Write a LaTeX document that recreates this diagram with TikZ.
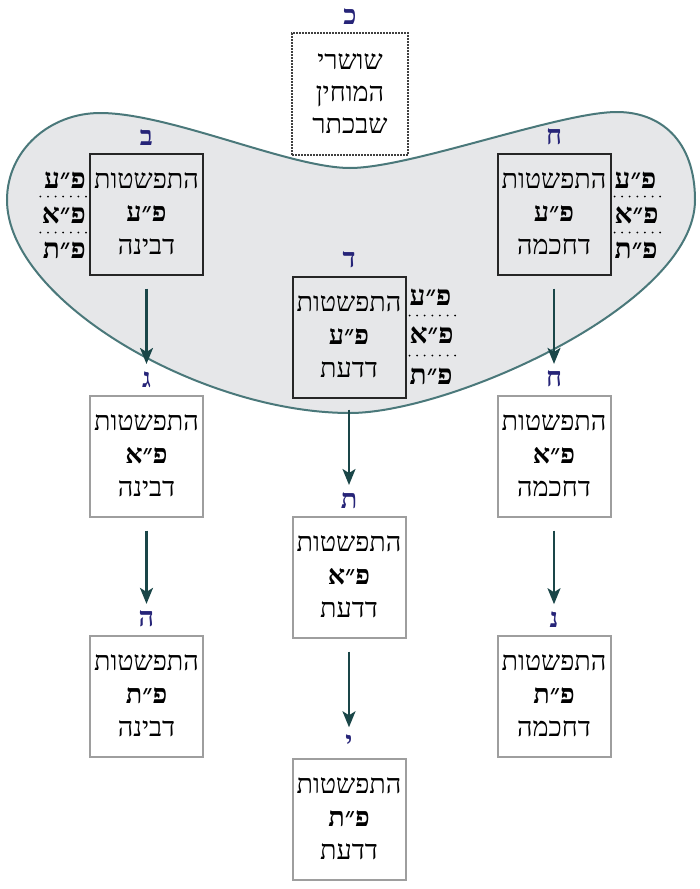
\documentclass[tikz,border=0pt]{standalone}
\usepackage{fontspec}
\setmainfont{Liberation Serif}[Script=Hebrew]
\TeXXeTstate=1
\usetikzlibrary{positioning,arrows.meta}
\newcommand\heb[1]{\beginR#1\endR}
\newcommand\tribox[3]{\heb{#1}\\\textbf{\heb{#2}}\\\heb{#3}}
\definecolor{blob_fill}{RGB}{230,231,233}
\definecolor{blob_edge}{RGB}{74,120,122}
\definecolor{arrow_teal}{RGB}{26,70,72}
\definecolor{label_blue}{RGB}{38,36,120}
\definecolor{box_gray}{RGB}{158,158,158}

\begin{document}
\begin{tikzpicture}[x=1pt,y=-1pt,>={Stealth[length=16pt,width=13pt,inset=4pt]},font=\fontsize{27}{33}\selectfont]
    \tikzstyle{box}=[line width=2pt, minimum width=113pt, minimum height=121pt, align=center, inner sep=0pt, text=black]
    \tikzstyle{inner}=[style=box, draw=black!85]
    \tikzstyle{outer}=[style=box, draw=box_gray]
    \tikzstyle{keterbox}=[style=box, draw=black!75, densely dotted, line width=2.6pt, minimum width=116pt, minimum height=122pt, font=\fontsize{27}{32}\selectfont]
    \tikzstyle{letter}=[text=label_blue, font=\fontsize{27}{27}\selectfont\bfseries, inner sep=0pt]
    \tikzstyle{side}=[font=\fontsize{28}{28}\selectfont\bfseries, inner sep=0pt]
    \tikzstyle{sep}=[dash pattern=on 0pt off 7.6pt, line width=2pt, line cap=round]
    \tikzstyle{arr}=[->, arrow_teal, line width=2.2pt]

    \useasboundingbox (0,0) rectangle (699,889);

    % the vessel round the three upper boxes
    \filldraw[fill=blob_fill, draw=blob_edge, line width=2pt]
      (350,168) .. controls (290,168) and (170,113) .. (100,113)
                .. controls (50,113) and (7,150) .. (7,200)
                .. controls (7,300) and (200,413) .. (350,413)
                .. controls (450,413) and (695,305) .. (695,200)
                .. controls (695,140) and (660,112) .. (617,112)
                .. controls (560,112) and (410,168) .. (350,168) -- cycle;

    % keter
    \node[keterbox] (keter) at (350,94) {\heb{שושרי}\\\heb{המוחין}\\\heb{שבכתר}};
    \node[letter, above=7pt of keter] (keterLbl) {\heb{כ}};

    % upper row (inside)
    \node[inner] (binaA) at (146.5,214) {\tribox{התפשטות}{פ״ע}{דבינה}};
    \node[inner] (chochmaA) at (554,214) {\tribox{התפשטות}{פ״ע}{דחכמה}};
    \node[inner] (daatA) at (349,337) {\tribox{התפשטות}{פ״ע}{דדעת}};
    \node[letter, above=7pt of binaA] (binaALbl) {\heb{ב}};
    \node[letter, above=7pt of chochmaA] (chochmaALbl) {\heb{ח}};
    \node[letter, above=7pt of daatA] (daatALbl) {\heb{ד}};

    % side marks
    \node[side, anchor=east] (binaAu) at ([xshift=-3pt,yshift=-28pt]binaA.north west) {\heb{פ״ע}};
    \node[side, anchor=east] (binaAm) at ([xshift=-3pt,yshift=-63pt]binaA.north west) {\heb{פ״א}};
    \node[side, anchor=east] (binaAd) at ([xshift=-3pt,yshift=-98pt]binaA.north west) {\heb{פ״ת}};
    \draw[sep] ([xshift=-3pt,yshift=-44pt]binaA.north west) -- ++(-46,0);
    \draw[sep] ([xshift=-3pt,yshift=-80pt]binaA.north west) -- ++(-46,0);

    \node[side, anchor=west] (chochmaAu) at ([xshift=3pt,yshift=-28pt]chochmaA.north east) {\heb{פ״ע}};
    \node[side, anchor=west] (chochmaAm) at ([xshift=3pt,yshift=-63pt]chochmaA.north east) {\heb{פ״א}};
    \node[side, anchor=west] (chochmaAd) at ([xshift=3pt,yshift=-98pt]chochmaA.north east) {\heb{פ״ת}};
    \draw[sep] ([xshift=3pt,yshift=-44pt]chochmaA.north east) -- ++(46,0);
    \draw[sep] ([xshift=3pt,yshift=-80pt]chochmaA.north east) -- ++(46,0);

    \node[side, anchor=west] (daatAu) at ([xshift=3pt,yshift=-22pt]daatA.north east) {\heb{פ״ע}};
    \node[side, anchor=west] (daatAm) at ([xshift=3pt,yshift=-60pt]daatA.north east) {\heb{פ״א}};
    \node[side, anchor=west] (daatAd) at ([xshift=3pt,yshift=-101pt]daatA.north east) {\heb{פ״ת}};
    \draw[sep] ([xshift=3pt,yshift=-40pt]daatA.north east) -- ++(46,0);
    \draw[sep] ([xshift=3pt,yshift=-80pt]daatA.north east) -- ++(46,0);

    % lower boxes
    \node[outer] (binaB) at (146.5,456) {\tribox{התפשטות}{פ״א}{דבינה}};
    \node[outer] (binaC) at (146.5,696) {\tribox{התפשטות}{פ״ת}{דבינה}};
    \node[outer] (daatB) at (349,577) {\tribox{התפשטות}{פ״א}{דדעת}};
    \node[outer] (daatC) at (349,819) {\tribox{התפשטות}{פ״ת}{דדעת}};
    \node[outer] (chochmaB) at (554,456) {\tribox{התפשטות}{פ״א}{דחכמה}};
    \node[outer] (chochmaC) at (554,696) {\tribox{התפשטות}{פ״ת}{דחכמה}};
    \node[letter, above=7pt of binaB] (binaBLbl) {\heb{ג}};
    \node[letter, above=7pt of binaC] (binaCLbl) {\heb{ה}};
    \node[letter, above=7pt of daatB] (daatBLbl) {\heb{ת}};
    \node[letter, above=7pt of daatC] (daatCLbl) {\heb{י}};
    \node[letter, above=7pt of chochmaB] (chochmaBLbl) {\heb{ח}};
    \node[letter, above=7pt of chochmaC] (chochmaCLbl) {\heb{נ}};

    % arrows
    \draw[arr, shorten <=13pt, shorten >=7pt] (binaA.south) -- (binaBLbl.north);
    \draw[arr, shorten <=13pt, shorten >=7pt] (binaB.south) -- (binaCLbl.north);
    \draw[arr, shorten <=11pt, shorten >=7pt] (daatA.south) -- (daatBLbl.north);
    \draw[arr, shorten <=13pt, shorten >=7pt] (daatB.south) -- (daatCLbl.north);
    \draw[arr, shorten <=13pt, shorten >=7pt] (chochmaA.south) -- (chochmaBLbl.north);
    \draw[arr, shorten <=13pt, shorten >=7pt] (chochmaB.south) -- (chochmaCLbl.north);
\end{tikzpicture}
\end{document}
